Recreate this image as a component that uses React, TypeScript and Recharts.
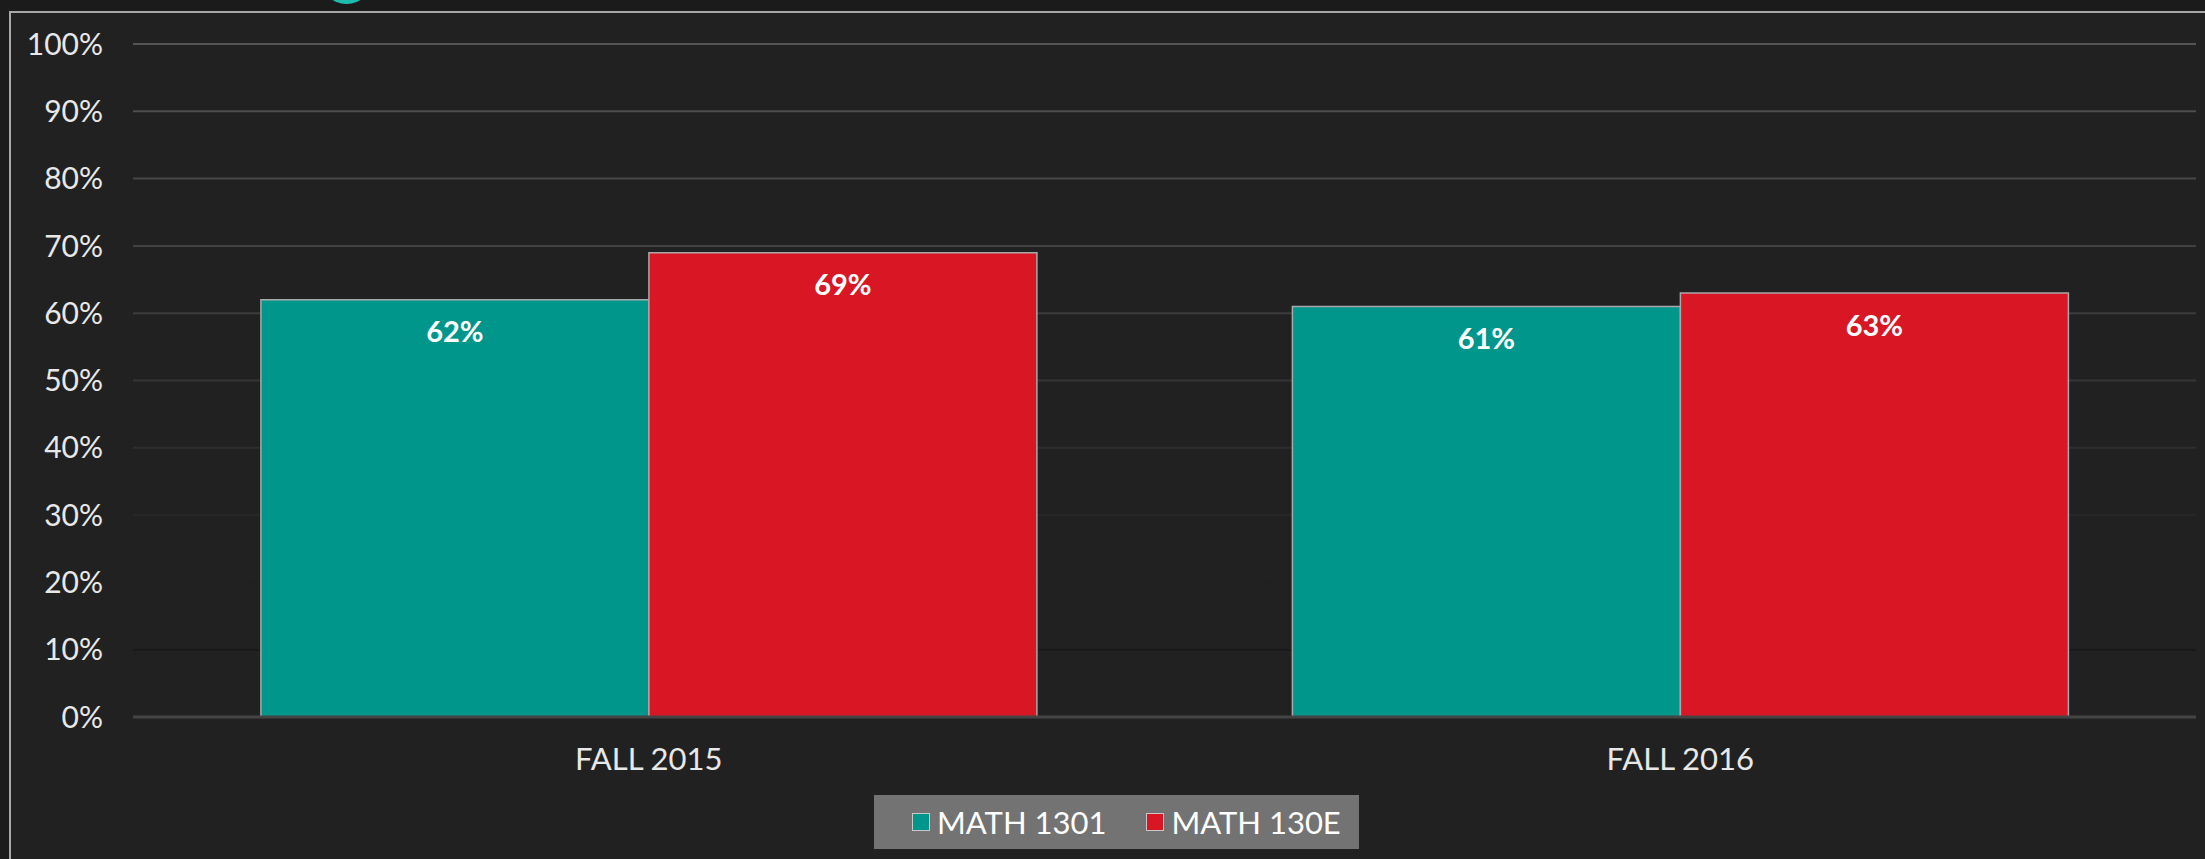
import { Bar, BarChart, CartesianGrid, LabelList, XAxis, YAxis } from "recharts";

const terms = ["FALL 2015", "FALL 2016"];
const math1301 = [0.62, 0.61];
const math130e = [0.69, 0.63];
const seriesNames = ["MATH 1301", "MATH 130E"];
const seriesColors = ["#00968b", "#d91724"];
const yTicks = [0, 0.1, 0.2, 0.3, 0.4, 0.5, 0.6, 0.7, 0.8, 0.9, 1];

const data = terms.map((term, i) => ({
  term,
  math1301: math1301[i],
  math130e: math130e[i]
}));

const pct = (v: number) => `${Math.round(Number(v) * 100)}%`;
const font = "Lato, 'Open Sans', sans-serif";

export default function App() {
  return (
    <div style={{ position: "relative", width: 2205, height: 859, background: "#1b1b1b", overflow: "hidden", fontFamily: font }}>
      <style>{`body{margin:0}`}</style>
      <div
        style={{
          position: "absolute",
          left: 9,
          top: 11,
          width: 2220,
          height: 870,
          background: "#212121",
          borderLeft: "2px solid #a8a8a8",
          borderTop: "2px solid #a8a8a8"
        }}
      />
      {/* decorative marker peeking from above the panel */}
      <div
        style={{
          position: "absolute",
          left: 320,
          top: -49,
          width: 53,
          height: 53,
          borderRadius: "50%",
          background: "#1dbcad"
        }}
      />
      <div style={{ position: "absolute", left: 0, top: 0 }}>
        <BarChart
          width={2205}
          height={859}
          data={data}
          margin={{ top: 44, right: 9, bottom: 82, left: 0 }}
          barCategoryGap="12.4%"
          barGap={0}
        >
          <defs>
            <linearGradient id="grid-fade" gradientUnits="userSpaceOnUse" x1="0" y1="44" x2="0" y2="717">
              <stop offset="0%" stopColor="#545454" />
              <stop offset="50%" stopColor="#353535" />
              <stop offset="100%" stopColor="#121212" />
            </linearGradient>
          </defs>
          <CartesianGrid vertical={false} stroke="url(#grid-fade)" strokeWidth={2} />
          <XAxis
            dataKey="term"
            axisLine={{ stroke: "#444444", strokeWidth: 3 }}
            tickLine={false}
            tickSize={0}
            tickMargin={31}
            height={60}
            tick={{ fill: "#e8e8e8", fontSize: 31, fontFamily: font }}
          />
          <YAxis
            domain={[0, 1]}
            ticks={yTicks}
            tickFormatter={pct}
            axisLine={false}
            tickLine={false}
            tickSize={0}
            tickMargin={30}
            width={133}
            tick={{ fill: "#e8e8e8", fontSize: 30, fontFamily: font }}
          />
          <Bar dataKey="math1301" name={seriesNames[0]} fill={seriesColors[0]} stroke="#a9a9a9" strokeWidth={1.5} isAnimationActive={false}>
            <LabelList
              dataKey="math1301"
              position="insideTop"
              offset={22}
              formatter={pct}
              fill="#ffffff"
              fontSize={29}
              fontWeight={700}
              fontFamily={font}
            />
          </Bar>
          <Bar dataKey="math130e" name={seriesNames[1]} fill={seriesColors[1]} stroke="#a9a9a9" strokeWidth={1.5} isAnimationActive={false}>
            <LabelList
              dataKey="math130e"
              position="insideTop"
              offset={22}
              formatter={pct}
              fill="#ffffff"
              fontSize={29}
              fontWeight={700}
              fontFamily={font}
            />
          </Bar>
        </BarChart>
      </div>
      <div
        style={{
          position: "absolute",
          left: 874,
          top: 795,
          width: 485,
          height: 54,
          background: "#737373",
          display: "flex",
          alignItems: "center",
          paddingLeft: 38,
          boxSizing: "border-box",
          gap: 40
        }}
      >
        {seriesNames.map((name, i) => (
          <div key={name} style={{ display: "flex", alignItems: "center", gap: 7 }}>
            <span
              style={{
                width: 16,
                height: 16,
                background: seriesColors[i],
                border: "1.5px solid #c8c8c8",
                display: "inline-block"
              }}
            />
            <span style={{ color: "#ffffff", fontSize: 31, lineHeight: "54px" }}>{name}</span>
          </div>
        ))}
      </div>
    </div>
  );
}
